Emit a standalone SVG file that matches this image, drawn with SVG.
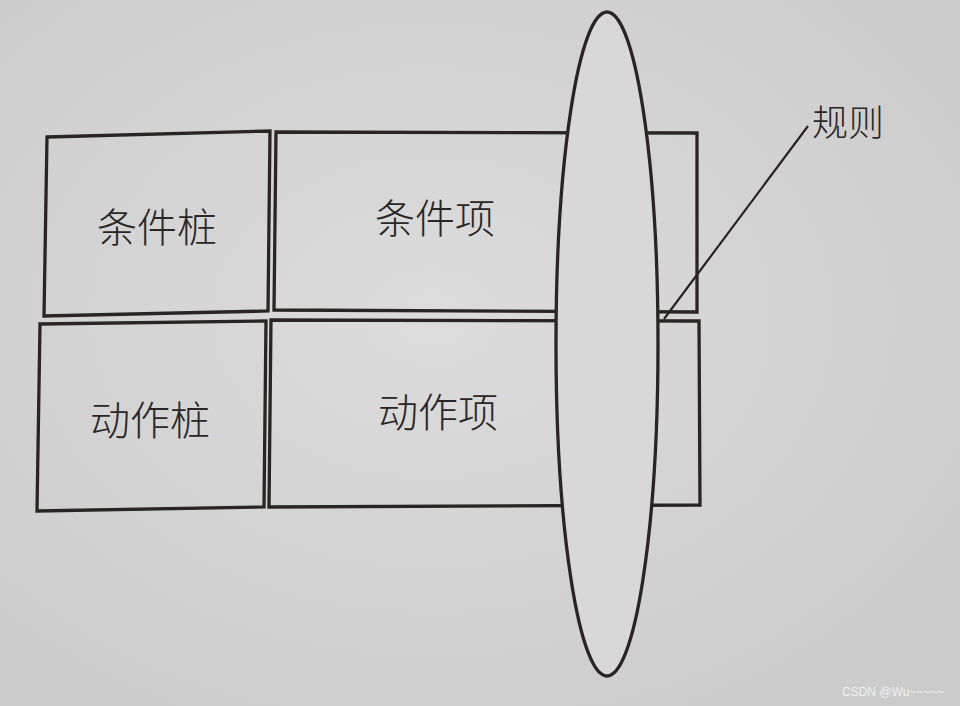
<svg xmlns="http://www.w3.org/2000/svg" width="960" height="706" viewBox="0 0 960 706">
<defs>
<style>
.box{fill:none;stroke:#2a2424;stroke-width:3.3;stroke-linejoin:miter}
.lbl{font-family:"Noto Sans CJK SC","Noto Sans CJK JP",sans-serif;font-size:40px;font-weight:300;fill:#2a2626;text-anchor:middle}
</style>
<radialGradient id="bg" cx="0.45" cy="0.45" r="0.8">
<stop offset="0" stop-color="#dcdcdc"/>
<stop offset="1" stop-color="#c9c9c9"/>
</radialGradient>
</defs>
<rect width="960" height="706" fill="url(#bg)"/>
<g id="cond-stub"><polygon class="box" points="47,137 270,131 268,311 44,316"/><text class="lbl" x="157" y="242">条件桩</text></g>
<g id="cond-entry"><polygon class="box" points="276,132 697,133 697,312 274,310"/><text class="lbl" x="435" y="233">条件项</text></g>
<g id="act-stub"><polygon class="box" points="40,324 266,321 264,507 37,511"/><text class="lbl" x="150" y="435">动作桩</text></g>
<g id="act-entry"><polygon class="box" points="271,320 699,321 700,505 269,507"/><text class="lbl" x="438" y="427">动作项</text></g>
<g id="rule"><ellipse cx="607" cy="344" rx="51" ry="332" fill="#d8d8d8" stroke="#2a2424" stroke-width="3.3"/><text class="lbl" x="848" y="136" style="font-size:36px">规则</text></g>
<g id="connectors"><line x1="664" y1="319" x2="808" y2="126" stroke="#2a2424" stroke-width="2.2"/></g>
<text x="842" y="696" font-family="Liberation Sans, sans-serif" font-size="12" fill="#f0f0f0">CSDN @Wu~~~~~</text>
</svg>
